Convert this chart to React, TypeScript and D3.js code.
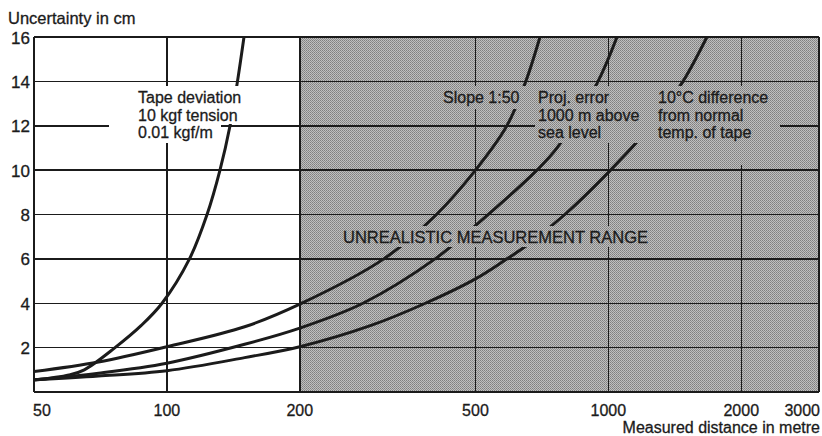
import React from "react";
import * as d3 from "d3";

const W = 822;
const H = 436;

// Axis ticks
const xTickValues = [50, 100, 200, 500, 1000, 2000, 3000];
const xGridValues = [100, 200, 500, 1000, 2000];
const yTickValues = [2, 4, 6, 8, 10, 12, 14, 16];

// Tape deviation, 10 kgf tension, 0.01 kgf/m
const tapeDistance = [50, 60, 65, 76.3, 87.5, 97.5, 112.5, 123.3, 131.9, 139, 144.5, 149.5];
const tapeUncertainty = [0.54, 0.77, 1.0, 2.0, 3.0, 4.0, 6.0, 8.0, 10.0, 12.0, 14.0, 16.0];

// Slope 1:50
const slopeDistance = [50, 70, 100, 150, 200, 310, 408, 500, 589, 650, 700];
const slopeUncertainty = [0.92, 1.35, 2.04, 2.94, 3.96, 6.0, 8.0, 10.0, 12.0, 14.0, 16.0];

// Projection error, 1000 m above sea level
const projDistance = [50, 70, 100, 150, 200, 278, 405, 500, 689, 765, 942, 1046];
const projUncertainty = [0.55, 0.85, 1.3, 2.15, 2.88, 4.0, 6.0, 7.5, 10.0, 11.0, 13.9, 16.0];

// 10 °C difference from normal temperature of tape
const tempDistance = [50, 70, 100, 150, 200, 290, 385, 500, 589, 653, 797, 1000, 1275, 1476, 1672];
const tempUncertainty = [0.55, 0.72, 0.96, 1.55, 2.04, 3.0, 4.0, 5.1, 6.0, 6.6, 8.0, 9.9, 12.2, 14.0, 16.0];

const FONT = "'Liberation Sans', Arial, Helvetica, sans-serif";
const INK = "#1b1b1b";

type Box = { x0: number; x1: number; y0: number; y1: number };
type Label = { lines: string[]; x: number; y: number; size: number; boxes: Box[] };

// Curve labels sit on a knocked-out background that interrupts grid and curves
const labels: Label[] = [
  {
    lines: ["Tape deviation", "10 kgf tension", "0.01 kgf/m"],
    x: 138,
    y: 103,
    size: 16,
    boxes: [
      { x0: 109, x1: 221, y0: 86, y1: 143 },
      { x0: 221, x1: 240, y0: 86, y1: 124 },
    ],
  },
  {
    lines: ["Slope 1:50"],
    x: 443,
    y: 103,
    size: 16,
    boxes: [{ x0: 440, x1: 529, y0: 86, y1: 109 }],
  },
  {
    lines: ["Proj. error", "1000 m above", "sea level"],
    x: 538,
    y: 103,
    size: 16,
    boxes: [{ x0: 535, x1: 652, y0: 86, y1: 143 }],
  },
  {
    lines: ["10°C difference", "from normal", "temp. of tape"],
    x: 658,
    y: 103,
    size: 16,
    boxes: [{ x0: 652, x1: 780, y0: 86, y1: 165 }],
  },
  {
    lines: ["UNREALISTIC MEASUREMENT RANGE"],
    x: 343,
    y: 243,
    size: 16.5,
    boxes: [{ x0: 340, x1: 660, y0: 226, y1: 247 }],
  },
];

export default function App() {
  const x = d3.scaleLog().domain([50, 3000]).range([34, 819]);
  const y = d3.scaleLinear().domain([0, 16]).range([392, 37]);

  const line = d3
    .line<[number, number]>()
    .x((d) => x(d[0]))
    .y((d) => y(d[1]))
    .curve(d3.curveCatmullRom.alpha(0.5));

  const curves = [
    { key: "tape", dist: tapeDistance, val: tapeUncertainty },
    { key: "slope", dist: slopeDistance, val: slopeUncertainty },
    { key: "proj", dist: projDistance, val: projUncertainty },
    { key: "temp", dist: tempDistance, val: tempUncertainty },
  ];

  const left = x(50);
  const right = x(3000);
  const top = y(16);
  const bottom = y(0);
  const shadeStart = x(200);

  const textInk = { fill: INK, stroke: INK, strokeWidth: 0.3 };

  return (
    <svg
      width={W}
      height={H}
      viewBox={`0 0 ${W} ${H}`}
      style={{ position: "absolute", left: 0, top: 0, background: "#ffffff" }}
    >
      <defs>
        <pattern id="halftone" width="2" height="2" patternUnits="userSpaceOnUse">
          <rect width="2" height="2" fill="#bfbfbf" />
          <rect x="0" y="0" width="1" height="1" fill="#7f7f7f" />
          <rect x="1" y="1" width="1" height="1" fill="#8e8e8e" />
        </pattern>
        <clipPath id="plotClip">
          <rect x={left} y={top} width={right - left} height={bottom - top} />
        </clipPath>
      </defs>

      <rect x={0} y={0} width={W} height={H} fill="#ffffff" />

      {/* unrealistic measurement range */}
      <rect
        x={shadeStart}
        y={top}
        width={right - shadeStart}
        height={bottom - top}
        fill="url(#halftone)"
        shapeRendering="crispEdges"
      />

      {/* grid */}
      <g stroke={INK} strokeWidth={1.5} shapeRendering="crispEdges">
        {yTickValues.map((v) => (
          <line key={`h${v}`} x1={left} x2={right} y1={y(v)} y2={y(v)} />
        ))}
        {xGridValues.map((v) => (
          <line key={`v${v}`} x1={x(v)} x2={x(v)} y1={top} y2={bottom} />
        ))}
      </g>

      {/* frame */}
      <g stroke={INK} strokeWidth={2} shapeRendering="crispEdges">
        <line x1={left} x2={left} y1={top} y2={bottom} />
        <line x1={left} x2={right} y1={bottom} y2={bottom} />
        <line x1={right} x2={right} y1={top} y2={bottom} />
      </g>

      {/* curves */}
      <g clipPath="url(#plotClip)" fill="none" stroke={INK} strokeWidth={3} strokeLinecap="round">
        {curves.map((c) => (
          <path
            key={c.key}
            d={line(c.dist.map((d, i) => [d, c.val[i]] as [number, number])) || ""}
          />
        ))}
      </g>

      {/* label knock-outs */}
      {labels.map((lab, i) =>
        lab.boxes.map((b, j) => (
          <rect
            key={`b${i}-${j}`}
            x={b.x0}
            y={b.y0}
            width={b.x1 - b.x0}
            height={b.y1 - b.y0}
            fill={b.x0 >= shadeStart ? "url(#halftone)" : "#ffffff"}
            shapeRendering="crispEdges"
          />
        ))
      )}

      {/* curve labels */}
      <g fontFamily={FONT} {...textInk}>
        {labels.map((lab, i) => (
          <text key={`t${i}`} x={lab.x} y={lab.y} fontSize={lab.size}>
            {lab.lines.map((s, j) => (
              <tspan key={j} x={lab.x} dy={j === 0 ? 0 : 17.5}>
                {s}
              </tspan>
            ))}
          </text>
        ))}
      </g>

      {/* y tick labels */}
      <g fontFamily={FONT} {...textInk} fontSize={17} textAnchor="end">
        {yTickValues.map((v) => (
          <text key={v} x={30} y={y(v) + 6.5}>
            {v}
          </text>
        ))}
      </g>

      {/* x tick labels */}
      <g fontFamily={FONT} {...textInk} fontSize={16}>
        {xTickValues.map((v, i) => (
          <text
            key={v}
            x={i === 0 ? left - 1 : i === xTickValues.length - 1 ? 820 : x(v)}
            y={416}
            textAnchor={i === 0 ? "start" : i === xTickValues.length - 1 ? "end" : "middle"}
          >
            {v}
          </text>
        ))}
      </g>

      {/* axis titles */}
      <text x={8} y={24} fontFamily={FONT} fontSize={16.5} {...textInk}>
        Uncertainty in cm
      </text>
      <text x={820} y={433} fontFamily={FONT} fontSize={16} textAnchor="end" {...textInk}>
        Measured distance in metre
      </text>
    </svg>
  );
}
